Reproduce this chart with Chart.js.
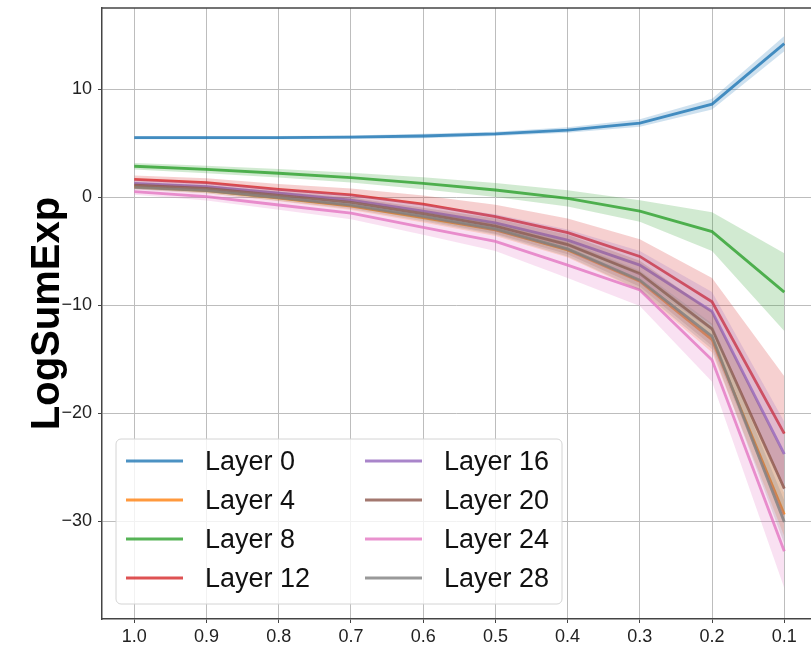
<!DOCTYPE html>
<html>
<head>
<meta charset="utf-8">
<title>LogSumExp per layer</title>
<script src="https://cdn.jsdelivr.net/npm/chart.js@4.4.1/dist/chart.umd.min.js"></script>
<style>
  html, body { margin: 0; padding: 0; background: #fff; }
  canvas { display: block; }
</style>
</head>
<body>
<canvas id="chart-canvas" width="811" height="645"></canvas>
<script>
// x positions (ratio), shown reversed from 1.0 down to 0.1
const ratios = [1.0, 0.9, 0.8, 0.7, 0.6, 0.5, 0.4, 0.3, 0.2, 0.1];
const yTicks = [-30, -20, -10, 0, 10];

const layerNames = ['Layer 0', 'Layer 4', 'Layer 8', 'Layer 12', 'Layer 16', 'Layer 20', 'Layer 24', 'Layer 28'];

// mean LogSumExp per layer
const layer0Mean  = [5.5, 5.5, 5.5, 5.55, 5.65, 5.85, 6.2, 6.85, 8.6, 14.2];
const layer4Mean  = [0.95, 0.6, -0.1, -0.85, -1.9, -3.05, -4.9, -7.8, -13.2, -29.4];
const layer8Mean  = [2.85, 2.55, 2.2, 1.8, 1.27, 0.65, -0.12, -1.3, -3.2, -8.8];
const layer12Mean = [1.64, 1.33, 0.71, 0.19, -0.65, -1.82, -3.3, -5.5, -9.7, -21.9];
const layer16Mean = [1.27, 0.95, 0.35, -0.3, -1.3, -2.4, -4.0, -6.3, -10.6, -23.8];
const layer20Mean = [1.1, 0.8, 0.15, -0.5, -1.55, -2.7, -4.4, -7.1, -12.2, -27.0];
const layer24Mean = [0.5, 0.03, -0.74, -1.5, -2.8, -4.1, -6.3, -8.6, -15.1, -32.8];
const layer28Mean = [0.9, 0.6, -0.05, -0.75, -1.8, -2.95, -4.8, -7.7, -12.9, -30.1];

// spread (shaded band = mean +/- std)
const layer0Std  = [0.15, 0.15, 0.15, 0.15, 0.2, 0.2, 0.25, 0.35, 0.5, 0.7];
const layer4Std  = [0.2, 0.25, 0.3, 0.35, 0.45, 0.55, 0.7, 0.9, 1.2, 2.0];
const layer8Std  = [0.3, 0.35, 0.4, 0.45, 0.55, 0.65, 0.75, 1.0, 1.8, 3.6];
const layer12Std = [0.35, 0.4, 0.5, 0.6, 0.8, 1.1, 1.3, 1.6, 2.2, 5.3];
const layer16Std = [0.3, 0.35, 0.4, 0.5, 0.6, 0.8, 1.0, 1.3, 1.8, 3.0];
const layer20Std = [0.25, 0.3, 0.35, 0.45, 0.55, 0.7, 0.9, 1.2, 1.6, 3.0];
const layer24Std = [0.3, 0.35, 0.45, 0.55, 0.7, 0.9, 1.2, 1.5, 2.0, 3.4];
const layer28Std = [0.2, 0.25, 0.3, 0.35, 0.45, 0.55, 0.7, 0.9, 1.2, 2.0];

const layerColors = ['31,119,180', '255,127,14', '44,160,44', '214,39,40',
                     '148,103,189', '140,86,75', '227,119,194', '127,127,127'];

const means = [layer0Mean, layer4Mean, layer8Mean, layer12Mean, layer16Mean, layer20Mean, layer24Mean, layer28Mean];
const stds  = [layer0Std, layer4Std, layer8Std, layer12Std, layer16Std, layer20Std, layer24Std, layer28Std];

const FONT = "'Liberation Sans', Arial, Helvetica, sans-serif";

const datasets = [];
layerNames.forEach((name, i) => {
  const c = layerColors[i];
  const order = layerNames.length - i; // later layers drawn on top
  const pts = k => ratios.map((x, j) => ({ x: x, y: means[i][j] + k * stds[i][j] }));
  datasets.push({
    label: name + ' upper', data: pts(1), isBand: true,
    borderWidth: 0, pointRadius: 0, fill: false, order: order
  });
  datasets.push({
    label: name + ' lower', data: pts(-1), isBand: true,
    borderWidth: 0, pointRadius: 0, fill: '-1',
    backgroundColor: 'rgba(' + c + ',0.22)', order: order
  });
  datasets.push({
    label: name, data: pts(0),
    borderColor: 'rgba(' + c + ',0.8)', borderWidth: 2.8,
    pointRadius: 0, fill: false, tension: 0, order: order
  });
});

// top spine + in-plot legend
const decorations = {
  id: 'decorations',
  afterDraw(chart) {
    const ctx = chart.ctx;
    const a = chart.chartArea;
    ctx.save();
    ctx.strokeStyle = '#444';
    ctx.lineWidth = 1.5;
    ctx.beginPath();
    ctx.moveTo(a.left, a.top);
    ctx.lineTo(a.right, a.top);
    ctx.stroke();

    const bx = a.left + 14, bw = 446, bh = 165, by = a.bottom - 15 - bh;
    ctx.fillStyle = 'rgba(255,255,255,0.8)';
    ctx.strokeStyle = '#d4d4d4';
    ctx.lineWidth = 1;
    ctx.beginPath();
    ctx.roundRect(bx, by, bw, bh, 5);
    ctx.fill();
    ctx.stroke();

    const lines = chart.data.datasets.filter(d => !d.isBand);
    ctx.font = '27px ' + FONT;
    ctx.fillStyle = '#111';
    ctx.textBaseline = 'alphabetic';
    lines.forEach((d, k) => {
      const col = Math.floor(k / 4), row = k % 4;
      const x0 = bx + 10 + col * 239;
      const y = by + 22 + row * 39;
      ctx.strokeStyle = d.borderColor;
      ctx.lineWidth = 3;
      ctx.beginPath();
      ctx.moveTo(x0, y);
      ctx.lineTo(x0 + 57, y);
      ctx.stroke();
      ctx.fillText(d.label, x0 + 79, y + 9);
    });
    ctx.restore();
  }
};

const noEdgePadding = s => {
  s.paddingTop = 0; s.paddingBottom = 0; s.paddingLeft = 0; s.paddingRight = 0;
};

new Chart(document.getElementById('chart-canvas').getContext('2d'), {
  type: 'line',
  data: { datasets: datasets },
  plugins: [decorations],
  options: {
    responsive: false,
    animation: false,
    layout: { padding: { top: 8, right: 0, left: 0, bottom: 0 } },
    plugins: { legend: { display: false }, tooltip: { enabled: false } },
    scales: {
      x: {
        type: 'linear',
        reverse: true,
        min: 0.063,
        max: 1.0447,
        afterBuildTicks: s => { s.ticks = ratios.map(v => ({ value: v })); },
        afterFit: s => { s.height = 26; noEdgePadding(s); },
        ticks: {
          color: '#222', font: { family: FONT, size: 18 }, padding: 3,
          maxRotation: 0, callback: v => Number(v).toFixed(1)
        },
        grid: { color: '#bdbdbd', lineWidth: 1, tickLength: 4, tickColor: '#444' },
        border: { display: true, color: '#444', width: 1.5 }
      },
      y: {
        min: -39.07,
        max: 17.5,
        afterBuildTicks: s => { s.ticks = yTicks.map(v => ({ value: v })); },
        afterFit: s => { s.width = 102; noEdgePadding(s); },
        ticks: {
          color: '#222', font: { family: FONT, size: 18 }, padding: 6,
          callback: v => v < 0 ? '\u2212' + Math.abs(v) : String(v)
        },
        grid: { color: '#bdbdbd', lineWidth: 1, tickLength: 4, tickColor: '#444' },
        border: { display: true, color: '#444', width: 1.5 },
        title: {
          display: true, text: 'LogSumExp', color: '#000',
          font: { family: FONT, size: 40, weight: 'bold' },
          padding: { top: 24, bottom: 0 }
        }
      }
    }
  }
});
</script>
</body>
</html>
